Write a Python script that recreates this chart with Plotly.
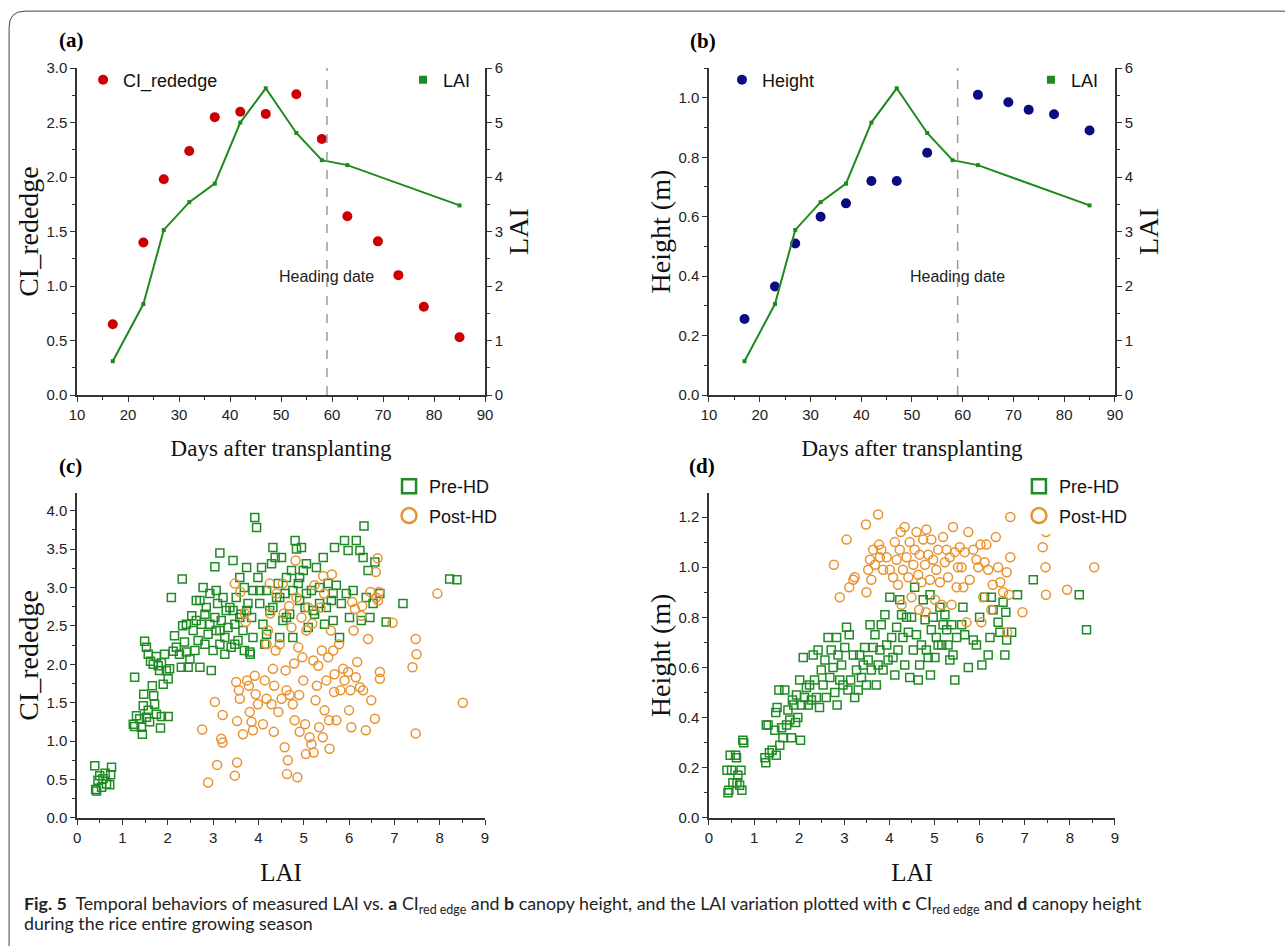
import plotly.graph_objects as go

W, H = 1285, 946
# the page keeps the browser's default 8px body margin; the captured page is
# slightly larger than the final picture, so positions are mapped accordingly
OFF = 8
KX, KY = 1285 / 1301, 946 / 963

# ---------------- data: panels (a) and (b) ----------------
days = [17, 23, 27, 32, 37, 42, 47, 53, 58, 63, 69, 73, 78, 85]
ci_rededge = [0.65, 1.40, 1.98, 2.24, 2.55, 2.60, 2.58, 2.76, 2.35, 1.64, 1.41, 1.10, 0.81, 0.53]
lai_days = [17, 23, 27, 32, 37, 42, 47, 53, 58, 63, 85]
lai_mean = [0.62, 1.67, 3.03, 3.54, 3.88, 5.00, 5.63, 4.81, 4.31, 4.22, 3.48]
height_days = [17, 23, 27, 32, 37, 42, 47, 53, 63, 69, 73, 78, 85]
height_mean = [0.256, 0.365, 0.51, 0.60, 0.645, 0.72, 0.72, 0.815, 1.01, 0.985, 0.96, 0.945, 0.89]
heading_day = 59

# ---------------- data: panel (c) LAI vs CI_rededge ----------------
pre_c_lai = [0.39, 0.43, 0.46, 0.54, 0.62, 0.65, 0.72, 0.76, 0.74, 0.50, 0.57, 0.41,
             1.27, 1.24, 1.27, 1.31, 1.38, 1.42, 1.44, 1.47, 1.46, 1.53, 1.57, 1.60, 1.66, 1.69,
             1.71, 1.75, 1.84, 1.86, 2.01, 1.49, 1.53, 1.57, 1.62, 1.68, 1.75, 1.79, 1.82, 1.90,
             1.86, 1.93, 1.97, 2.01, 2.04, 2.08, 2.12, 2.15, 2.19, 2.26, 2.30, 2.33, 2.32, 2.37,
             2.41, 2.45, 2.49, 2.53, 2.56, 2.60, 2.63, 2.67, 2.71, 2.74, 2.78, 2.82, 2.85, 2.89,
             2.93, 2.96, 3.00, 3.04, 3.04, 3.07, 3.10, 3.15, 3.15, 3.18, 3.22, 3.26, 3.29, 3.33,
             3.37, 3.40, 3.44, 3.48, 3.51, 3.55, 3.59, 3.62, 3.66, 3.69, 3.74, 3.77, 3.81, 3.85,
             3.88, 3.92, 3.96, 3.99, 4.03, 4.07, 4.10, 4.14, 4.18, 4.25, 4.29, 4.32, 4.37, 4.40,
             4.44, 4.47, 4.51, 4.54, 4.59, 4.62, 4.69, 4.73, 4.76, 4.81, 4.84, 4.88, 4.91, 4.95,
             4.99, 5.03, 5.06, 5.10, 5.17, 5.24, 5.28, 5.35, 5.43, 5.46, 5.54, 5.61, 5.65, 5.68,
             5.72, 5.79, 5.83, 5.90, 5.98, 6.01, 6.09, 6.16, 6.24, 6.27, 6.31, 6.33, 6.38, 6.42,
             6.46, 6.53, 6.57, 6.68, 6.82, 7.19, 8.22, 8.38,
             3.44, 3.59, 3.74, 3.88, 4.03, 4.18, 4.32, 4.47, 4.62, 4.76, 4.91, 5.06, 5.21, 5.35,
             5.50, 5.65, 5.94, 3.07, 3.26, 2.71, 2.82, 2.41, 2.63, 2.93, 3.15, 3.48, 3.69, 3.82]
pre_c_ci = [0.68, 0.35, 0.49, 0.40, 0.58, 0.44, 0.43, 0.66, 0.56, 0.55, 0.51, 0.37,
            1.83, 1.22, 1.19, 1.33, 1.29, 1.18, 1.09, 1.61, 1.46, 1.31, 1.40, 1.25, 1.72, 1.59,
            1.48, 1.35, 1.17, 1.32, 1.32, 2.30, 2.22, 2.13, 2.04, 2.00, 2.10, 1.98, 1.92, 1.74,
            2.02, 2.13, 1.92, 1.81, 1.94, 2.87, 2.17, 2.37, 2.22, 2.13, 1.96, 2.50, 3.11, 2.29,
            2.16, 1.96, 2.07, 2.63, 2.44, 2.18, 2.83, 2.31, 1.96, 2.52, 3.00, 2.26, 2.74, 2.39,
            2.92, 1.92, 2.18, 3.27, 2.61, 2.44, 2.79, 3.45, 2.26, 2.57, 2.87, 2.13, 2.70, 2.48,
            2.74, 2.22, 3.35, 2.52, 2.87, 2.31, 3.13, 2.65, 2.44, 3.00, 3.26, 2.79, 2.16, 2.61,
            2.96, 3.91, 3.78, 3.13, 2.79, 3.26, 2.52, 2.26, 2.96, 2.70, 3.31, 3.52, 3.39, 2.87,
            3.05, 2.35, 3.39, 2.57, 2.92, 3.13, 2.65, 3.22, 2.35, 3.61, 3.50, 3.05, 2.83, 3.52,
            3.22, 2.74, 3.31, 2.48, 2.96, 2.65, 3.26, 2.79, 3.39, 2.52, 3.05, 2.83, 2.57, 3.52,
            3.03, 2.35, 2.79, 3.61, 3.48, 2.61, 2.96, 3.61, 3.48, 2.57, 3.39, 3.80, 2.87, 3.22,
            2.61, 2.79, 3.33, 2.92, 2.55, 2.79, 3.11, 3.10,
            2.70, 2.61, 2.70, 2.35, 2.96, 2.39, 2.74, 2.87, 2.61, 2.96, 3.13, 2.92, 2.70, 3.00,
            2.74, 2.92, 2.92, 2.96, 2.35, 2.83, 2.65, 2.52, 2.57, 2.52, 2.44, 2.26, 2.18, 2.13]

post_c_lai = [2.76, 2.89, 3.04, 3.09, 3.18, 3.21, 3.21, 3.48, 3.48, 3.51, 3.53, 3.53, 3.57, 3.59,
              3.60, 3.66, 3.70, 3.72, 3.75, 3.79, 3.81, 3.85, 3.88, 3.92, 3.94, 3.99, 4.10, 4.14,
              4.18, 4.18, 4.21, 4.25, 4.26, 4.29, 4.32, 4.34, 4.35, 4.38, 4.40, 4.44, 4.47, 4.51,
              4.54, 4.56, 4.58, 4.60, 4.62, 4.63, 4.65, 4.68, 4.69, 4.73, 4.76, 4.79, 4.80, 4.82,
              4.84, 4.86, 4.88, 4.90, 4.91, 4.95, 4.97, 4.99, 5.03, 5.05, 5.06, 5.10, 5.13, 5.17,
              5.19, 5.21, 5.22, 5.24, 5.26, 5.29, 5.32, 5.34, 5.37, 5.40, 5.42, 5.43, 5.45, 5.46,
              5.50, 5.54, 5.56, 5.57, 5.60, 5.62, 5.65, 5.67, 5.68, 5.72, 5.78, 5.81, 5.87, 5.90,
              5.98, 6.00, 6.03, 6.05, 6.07, 6.10, 6.13, 6.15, 6.18, 6.24, 6.27, 6.29, 6.31, 6.37,
              6.42, 6.47, 6.49, 6.57, 6.59, 6.60, 6.63, 6.64, 6.68, 6.68, 6.66, 6.96, 7.40, 7.47,
              7.49, 7.47, 7.95, 8.51]
post_c_ci = [1.15, 0.46, 1.51, 0.69, 1.03, 0.98, 1.34, 3.05, 0.55, 1.77, 1.26, 0.72, 1.66, 1.55,
             2.94, 1.09, 2.66, 2.55, 1.79, 1.72, 1.38, 1.25, 1.14, 1.85, 1.61, 1.48, 1.22, 1.79,
             2.26, 1.55, 2.44, 3.05, 2.66, 1.48, 1.94, 1.12, 1.72, 2.18, 2.92, 1.38, 2.26, 1.55,
             3.05, 2.66, 0.92, 1.92, 1.66, 0.57, 0.75, 2.76, 1.60, 2.48, 1.48, 2.01, 1.27, 3.35,
             2.87, 0.53, 2.22, 1.60, 1.12, 2.61, 2.09, 1.79, 1.22, 0.83, 2.44, 2.74, 1.05, 0.96,
             2.53, 2.05, 0.85, 3.03, 1.53, 1.72, 1.98, 1.18, 2.74, 2.18, 1.05, 3.15, 2.92, 1.40,
             1.79, 2.09, 1.27, 0.90, 2.44, 3.17, 2.18, 1.64, 1.87, 1.27, 2.26, 1.66, 1.94, 1.79,
             1.90, 1.40, 1.66, 1.18, 2.81, 2.44, 2.72, 1.83, 2.03, 1.70, 2.63, 2.76, 1.66, 1.14,
             2.33, 2.94, 1.53, 1.29, 3.20, 2.87, 3.38, 2.83, 1.90, 1.81, 2.94, 2.54, 1.96, 2.33,
             2.13, 1.10, 2.92, 1.50]

# ---------------- data: panel (d) LAI vs Height ----------------
pre_d_lai = [0.40, 0.42, 0.44, 0.47, 0.50, 0.53, 0.59, 0.61, 0.62, 0.64, 0.68, 0.71, 0.73, 0.75, 0.77,
             1.24, 1.26, 1.27, 1.31, 1.34, 1.40, 1.46, 1.48, 1.49, 1.51, 1.55, 1.57, 1.61, 1.64,
             1.68, 1.72, 1.75, 1.79, 1.83, 1.85, 1.88, 1.92, 1.94, 1.97, 2.01, 2.03, 2.05, 2.09,
             2.12, 2.16, 2.20, 2.23, 2.27, 2.31, 2.34, 2.38, 2.42, 2.45, 2.49, 2.53, 2.57, 2.60,
             2.64, 2.68, 2.71, 2.75, 2.79, 2.83, 2.84, 2.86, 2.90, 2.94, 2.97, 3.01, 3.05, 3.08,
             3.11, 3.14, 3.20, 3.23, 3.27, 3.31, 3.34, 3.38, 3.42, 3.45, 3.49, 3.53, 3.57, 3.60,
             3.64, 3.68, 3.71, 3.75, 3.79, 3.82, 3.86, 3.90, 3.94, 3.97, 4.01, 4.05, 4.08, 4.12,
             4.16, 4.19, 4.23, 4.27, 4.30, 4.34, 4.38, 4.42, 4.45, 4.49, 4.53, 4.56, 4.60, 4.64,
             4.67, 4.71, 4.75, 4.79, 4.82, 4.86, 4.90, 4.91, 4.93, 4.97, 5.01, 5.04, 5.08, 5.12,
             5.16, 5.19, 5.23, 5.27, 5.30, 5.34, 5.38, 5.41, 5.45, 5.49, 5.60, 5.63, 5.67, 5.75,
             5.86, 5.93, 6.00, 6.05, 6.11, 6.19, 6.23, 6.26, 6.30, 6.41, 6.45, 6.52, 6.56, 6.58,
             6.60, 6.71, 6.84, 7.19, 8.21, 8.37]
pre_d_h = [0.19, 0.10, 0.11, 0.25, 0.19, 0.14, 0.25, 0.24, 0.14, 0.17, 0.13, 0.19, 0.11, 0.31, 0.30,
           0.24, 0.22, 0.37, 0.37, 0.26, 0.27, 0.35, 0.42, 0.25, 0.44, 0.51, 0.29, 0.36, 0.32,
           0.51, 0.37, 0.43, 0.39, 0.32, 0.47, 0.45, 0.38, 0.49, 0.40, 0.55, 0.31, 0.45, 0.64,
           0.48, 0.52, 0.45, 0.53, 0.47, 0.65, 0.55, 0.48, 0.67, 0.44, 0.59, 0.53, 0.63, 0.48,
           0.72, 0.56, 0.67, 0.60, 0.50, 0.72, 0.45, 0.65, 0.55, 0.61, 0.53, 0.68, 0.76, 0.51,
           0.73, 0.55, 0.65, 0.48, 0.59, 0.51, 0.65, 0.56, 0.61, 0.68, 0.53, 0.63, 0.77, 0.59,
           0.68, 0.73, 0.53, 0.61, 0.67, 0.77, 0.59, 0.81, 0.69, 0.63, 0.88, 0.72, 0.64, 0.57,
           0.76, 0.67, 0.87, 0.81, 0.72, 0.61, 0.80, 0.74, 0.56, 0.80, 0.67, 0.92, 0.73, 0.55,
           0.61, 0.69, 0.87, 0.79, 0.67, 0.64, 0.89, 0.57, 0.75, 0.80, 0.64, 0.72, 0.69, 0.84,
           0.69, 0.77, 0.81, 0.75, 0.69, 0.63, 0.77, 0.65, 0.55, 0.72, 0.77, 0.84, 0.73, 0.60,
           0.71, 0.69, 0.80, 0.61, 0.88, 0.65, 0.72, 0.88, 0.83, 0.78, 0.74, 0.86, 0.65, 0.82,
           0.71, 0.74, 0.89, 0.95, 0.89, 0.75]

post_d_lai = [2.77, 2.90, 3.05, 3.11, 3.20, 3.23, 3.48, 3.49, 3.53, 3.57, 3.60, 3.64, 3.68, 3.75,
              3.77, 3.79, 3.82, 3.86, 3.94, 4.01, 4.08, 4.12, 4.16, 4.19, 4.23, 4.25, 4.27, 4.30,
              4.34, 4.38, 4.42, 4.45, 4.49, 4.53, 4.56, 4.60, 4.64, 4.66, 4.67, 4.71, 4.75, 4.79,
              4.81, 4.82, 4.86, 4.90, 4.93, 4.97, 5.01, 5.04, 5.08, 5.12, 5.16, 5.19, 5.23, 5.27,
              5.30, 5.34, 5.38, 5.41, 5.45, 5.49, 5.52, 5.56, 5.60, 5.64, 5.67, 5.71, 5.75, 5.78,
              5.86, 5.93, 5.97, 6.02, 6.04, 6.08, 6.11, 6.15, 6.19, 6.26, 6.29, 6.36, 6.41, 6.46,
              6.52, 6.60, 6.61, 6.65, 6.68, 6.68, 6.95, 7.40, 7.46, 7.47, 7.47, 7.94, 8.54]
post_d_h = [1.01, 0.88, 1.11, 0.92, 0.95, 0.96, 1.17, 0.90, 0.99, 1.03, 0.95, 1.07, 1.01, 1.21,
            1.09, 1.04, 1.07, 0.99, 1.04, 0.99, 0.96, 1.10, 1.03, 0.93, 1.07, 1.14, 0.85, 0.99,
            1.16, 1.04, 0.96, 1.10, 0.88, 1.01, 1.07, 1.14, 0.97, 0.83, 1.05, 0.94, 1.11, 1.01,
            0.82, 1.15, 1.05, 0.95, 1.11, 1.03, 0.87, 0.99, 1.07, 0.94, 0.85, 1.12, 1.02, 1.07,
            0.96, 1.04, 0.85, 1.16, 1.06, 0.92, 1.00, 1.08, 1.00, 0.92, 1.06, 0.78, 1.14, 0.95,
            1.07, 1.03, 1.00, 1.09, 0.78, 0.88, 1.02, 1.09, 0.99, 0.83, 0.93, 1.12, 1.00, 0.94,
            0.90, 0.98, 0.74, 0.89, 1.04, 1.20, 0.82, 1.08, 1.00, 0.89, 1.14, 0.91, 1.00]

# ---------------- styles ----------------
RED = "#CC0000"
NAVY = "#0B0B82"
GREEN_LINE = "#1E8A1E"
GREEN = "#1F8B24"
ORANGE = "#E8922E"
AX = "#333333"
SERIF = "Liberation Serif, Times New Roman, serif"
SANS = "Liberation Sans, Arial, sans-serif"


def px_x(p):
    # target picture pixel -> paper fraction
    return (p / KX - OFF) / W


def px_y(p):
    return 1 - (p / KY - OFF) / H


fig = go.Figure()

# (a)
fig.add_trace(go.Scatter(x=days, y=ci_rededge, mode="markers", name="CI_rededge",
                         marker=dict(color=RED, size=10, symbol="circle"),
                         xaxis="x", yaxis="y", legend="legend"))
fig.add_trace(go.Scatter(x=lai_days, y=lai_mean, mode="lines+markers", name="LAI",
                         line=dict(color=GREEN_LINE, width=2),
                         marker=dict(color=GREEN_LINE, size=4, symbol="square"),
                         xaxis="x", yaxis="y2", showlegend=False))
fig.add_trace(go.Scatter(x=[None], y=[None], mode="markers", name="LAI",
                         marker=dict(color=GREEN_LINE, size=8, symbol="square"),
                         xaxis="x", yaxis="y2", legend="legend2"))
# (b)
fig.add_trace(go.Scatter(x=height_days, y=height_mean, mode="markers", name="Height",
                         marker=dict(color=NAVY, size=10, symbol="circle"),
                         xaxis="x2", yaxis="y3", legend="legend3"))
fig.add_trace(go.Scatter(x=lai_days, y=lai_mean, mode="lines+markers", name="LAI",
                         line=dict(color=GREEN_LINE, width=2),
                         marker=dict(color=GREEN_LINE, size=4, symbol="square"),
                         xaxis="x2", yaxis="y4", showlegend=False))
fig.add_trace(go.Scatter(x=[None], y=[None], mode="markers", name="LAI",
                         marker=dict(color=GREEN_LINE, size=8, symbol="square"),
                         xaxis="x2", yaxis="y4", legend="legend4"))

# (c)
fig.add_trace(go.Scatter(x=pre_c_lai, y=pre_c_ci, mode="markers", name="Pre-HD",
                         marker=dict(color=GREEN, size=8, symbol="square-open", line=dict(width=1.5, color=GREEN)),
                         xaxis="x3", yaxis="y5", showlegend=False))
fig.add_trace(go.Scatter(x=post_c_lai, y=post_c_ci, mode="markers", name="Post-HD",
                         marker=dict(color=ORANGE, size=9, symbol="circle-open", line=dict(width=1.5, color=ORANGE)),
                         xaxis="x3", yaxis="y5", showlegend=False))
fig.add_trace(go.Scatter(x=[None], y=[None], mode="markers", name="Pre-HD", legendgroup="c1",
                         marker=dict(color=GREEN, size=14, symbol="square-open", line=dict(width=2.5, color=GREEN)),
                         xaxis="x3", yaxis="y5", legend="legend5"))
fig.add_trace(go.Scatter(x=[None], y=[None], mode="markers", name="Post-HD", legendgroup="c2",
                         marker=dict(color=ORANGE, size=15, symbol="circle-open", line=dict(width=2.5, color=ORANGE)),
                         xaxis="x3", yaxis="y5", legend="legend5"))

# (d)
fig.add_trace(go.Scatter(x=pre_d_lai, y=pre_d_h, mode="markers", name="Pre-HD",
                         marker=dict(color=GREEN, size=8, symbol="square-open", line=dict(width=1.5, color=GREEN)),
                         xaxis="x4", yaxis="y6", showlegend=False))
fig.add_trace(go.Scatter(x=post_d_lai, y=post_d_h, mode="markers", name="Post-HD",
                         marker=dict(color=ORANGE, size=9, symbol="circle-open", line=dict(width=1.5, color=ORANGE)),
                         xaxis="x4", yaxis="y6", showlegend=False))
fig.add_trace(go.Scatter(x=[None], y=[None], mode="markers", name="Pre-HD", legendgroup="d1",
                         marker=dict(color=GREEN, size=14, symbol="square-open", line=dict(width=2.5, color=GREEN)),
                         xaxis="x4", yaxis="y6", legend="legend6"))
fig.add_trace(go.Scatter(x=[None], y=[None], mode="markers", name="Post-HD", legendgroup="d2",
                         marker=dict(color=ORANGE, size=15, symbol="circle-open", line=dict(width=2.5, color=ORANGE)),
                         xaxis="x4", yaxis="y6", legend="legend6"))

# ---------------- axes ----------------
dom_x_left = [px_x(77), px_x(485)]
dom_x_right = [px_x(709), px_x(1115)]
dom_y_top = [px_y(394), px_y(67)]
dom_y_bot = [px_y(817), px_y(492)]

tickfont = dict(family=SANS, size=15, color="#222")
common = dict(showline=True, linecolor=AX, linewidth=1.5, ticks="outside", ticklen=5,
              tickwidth=1.2, tickcolor=AX, showgrid=False, zeroline=False,
              tickfont=tickfont, fixedrange=True)


def minor(d):
    return dict(dtick=d, ticks="outside", ticklen=3, tickwidth=1, tickcolor=AX, showgrid=False)


xtitle_font = dict(family=SERIF, size=23, color="#111")
ytitle_font = dict(family=SERIF, size=28, color="#111")
lai_x_font = dict(family=SERIF, size=25, color="#111")

fig.update_layout(
    xaxis=dict(domain=dom_x_left, anchor="y", range=[10, 90], tick0=10, dtick=10, minor=minor(5),
               title=dict(text="Days after transplanting", font=xtitle_font, standoff=18), **common),
    yaxis=dict(domain=dom_y_top, anchor="x", range=[0, 3], dtick=0.5, tickformat=".1f", minor=minor(0.25),
               title=dict(text="CI_rededge", font=ytitle_font, standoff=0), **common),
    yaxis2=dict(overlaying="y", side="right", anchor="x", range=[0, 6], dtick=1, minor=minor(0.5),
                title=dict(text="LAI", font=ytitle_font, standoff=0), **common),
    xaxis2=dict(domain=dom_x_right, anchor="y3", range=[10, 90], tick0=10, dtick=10, minor=minor(5),
                title=dict(text="Days after transplanting", font=xtitle_font, standoff=18), **common),
    yaxis3=dict(domain=dom_y_top, anchor="x2", range=[0, 1.1], dtick=0.2, tickformat=".1f", minor=minor(0.1),
                title=dict(text="Height (m)", font=ytitle_font, standoff=0), **common),
    yaxis4=dict(overlaying="y3", side="right", anchor="x2", range=[0, 6], dtick=1, minor=minor(0.5),
                title=dict(text="LAI", font=ytitle_font, standoff=0), **common),
    xaxis3=dict(domain=dom_x_left, anchor="y5", range=[0, 9], dtick=1, minor=minor(0.5),
                title=dict(text="LAI", font=lai_x_font, standoff=19), **common),
    yaxis5=dict(domain=dom_y_bot, anchor="x3", range=[0, 4.23], dtick=0.5, tickformat=".1f", minor=minor(0.25),
                title=dict(text="CI_rededge", font=ytitle_font, standoff=0), **common),
    xaxis4=dict(domain=dom_x_right, anchor="y6", range=[0, 9], dtick=1, minor=minor(0.5),
                title=dict(text="LAI", font=lai_x_font, standoff=19), **common),
    yaxis6=dict(domain=dom_y_bot, anchor="x4", range=[0, 1.296], dtick=0.2, tickformat=".1f", minor=minor(0.1),
                title=dict(text="Height (m)", font=ytitle_font, standoff=0), **common),
)

legfont = dict(family=SANS, size=18, color="#111")
leg_single = dict(font=legfont, bgcolor="rgba(0,0,0,0)", borderwidth=0, xanchor="left", yanchor="middle")
leg_double = dict(font=legfont, bgcolor="white", borderwidth=0, xanchor="left", yanchor="middle",
                  traceorder="grouped", tracegroupgap=3)
fig.update_layout(
    legend=dict(x=px_x(83), y=px_y(79), **leg_single),
    legend2=dict(x=px_x(403), y=px_y(79), **leg_single),
    legend3=dict(x=px_x(722), y=px_y(79), **leg_single),
    legend4=dict(x=px_x(1031), y=px_y(79), **leg_single),
    legend5=dict(x=px_x(389), y=px_y(500), **leg_double),
    legend6=dict(x=px_x(1019), y=px_y(500), **leg_double),
)

# heading date lines
shapes = [
    dict(type="line", xref="x", yref="y domain", x0=heading_day, x1=heading_day, y0=0, y1=1,
         line=dict(color="#9A9A9A", width=1.5, dash="dash")),
    dict(type="line", xref="x2", yref="y3 domain", x0=heading_day, x1=heading_day, y0=0, y1=1,
         line=dict(color="#9A9A9A", width=1.5, dash="dash")),
]
# outer rounded frame (left + top)
r = 16
shapes.append(dict(type="path", xref="paper", yref="paper",
                   path=f"M {px_x(9)},-0.05 L {px_x(9)},{px_y(10 + r)} "
                        f"Q {px_x(9)},{px_y(10)} {px_x(9 + r)},{px_y(10)} L 1.05,{px_y(10)}",
                   line=dict(color="#444", width=1)))

annotations = []
for xr, yr in [("x", "y domain"), ("x2", "y3 domain")]:
    annotations.append(dict(text="Heading date", x=heading_day, xref=xr, y=0.364, yref=yr,
                            showarrow=False, xanchor="center", yanchor="middle",
                            font=dict(family=SANS, size=16, color="#222")))
for lab, xp, yp in [("(a)", 71, 39), ("(b)", 703, 40), ("(c)", 70, 465), ("(d)", 702, 465)]:
    annotations.append(dict(text=f"<b>{lab}</b>", x=px_x(xp), y=px_y(yp), xref="paper", yref="paper",
                            showarrow=False, xanchor="center", yanchor="middle",
                            font=dict(family=SERIF, size=21, color="#000")))
capfont = dict(family="Lato, Noto Sans, sans-serif", size=17.8, color="#222")
annotations.append(dict(
    text="<b>Fig. 5</b>\u00a0\u00a0Temporal behaviors of measured LAI vs. <b>a</b> CI<sub>red edge</sub> and "
         "<b>b</b> canopy height, and the LAI variation plotted with <b>c</b> CI<sub>red edge</sub> and "
         "<b>d</b> canopy height",
    x=px_x(22), y=px_y(904), xref="paper", yref="paper", showarrow=False,
    xanchor="left", yanchor="middle", font=capfont))
annotations.append(dict(
    text="during the rice entire growing season",
    x=px_x(22), y=px_y(922), xref="paper", yref="paper", showarrow=False,
    xanchor="left", yanchor="middle", font=capfont))

fig.update_layout(
    width=W, height=H, autosize=False,
    margin=dict(l=0, r=0, t=0, b=0),
    paper_bgcolor="white", plot_bgcolor="white",
    shapes=shapes, annotations=annotations,
)

fig.write_html("out.html", config={"displayModeBar": False})
